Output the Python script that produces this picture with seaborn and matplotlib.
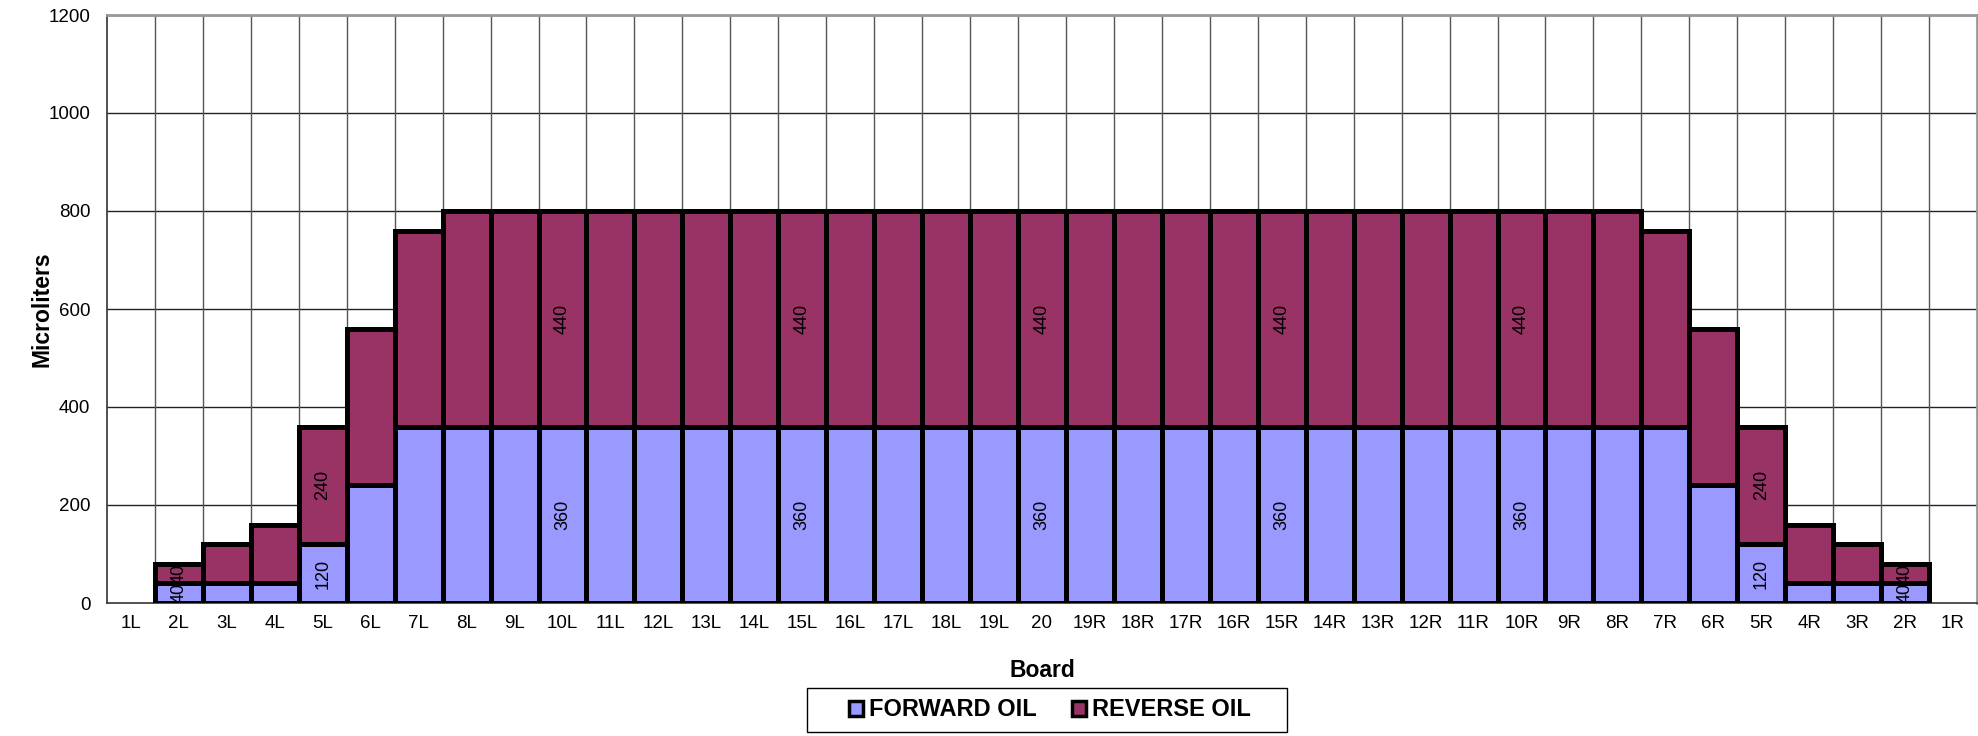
import matplotlib
matplotlib.use("Agg")
import matplotlib.pyplot as plt
import seaborn as sns
import pandas as pd
import numpy as np
from matplotlib.patches import Patch, Rectangle

boards = ["1L", "2L", "3L", "4L", "5L", "6L", "7L", "8L", "9L", "10L", "11L", "12L", "13L",
          "14L", "15L", "16L", "17L", "18L", "19L", "20", "19R", "18R", "17R", "16R", "15R",
          "14R", "13R", "12R", "11R", "10R", "9R", "8R", "7R", "6R", "5R", "4R", "3R", "2R", "1R"]
forward_oil = [0, 40, 40, 40, 120, 240, 360, 360, 360, 360, 360, 360, 360,
               360, 360, 360, 360, 360, 360, 360, 360, 360, 360, 360, 360,
               360, 360, 360, 360, 360, 360, 360, 360, 240, 120, 40, 40, 40, 0]
reverse_oil = [0, 40, 80, 120, 240, 320, 400, 440, 440, 440, 440, 440, 440,
               440, 440, 440, 440, 440, 440, 440, 440, 440, 440, 440, 440,
               440, 440, 440, 440, 440, 440, 440, 400, 320, 240, 120, 80, 40, 0]
labelled_boards = ["2L", "5L", "10L", "15L", "20", "15R", "10R", "5R", "2R"]

FWD_COLOR = "#9999FF"
REV_COLOR = "#993366"

df = pd.DataFrame({"Board": boards, "Forward": forward_oil, "Reverse": reverse_oil})
df["Total"] = df["Forward"] + df["Reverse"]

sns.set_style("white")
plt.rcParams["font.family"] = ["Liberation Sans", "DejaVu Sans"]
for k in ["text.color", "axes.labelcolor", "xtick.color", "ytick.color"]:
    plt.rcParams[k] = "black"

fig = plt.figure(figsize=(19.78, 7.36), dpi=100)
ax = fig.add_axes([107 / 1978, 1 - 603 / 736, (1977 - 107) / 1978, (603 - 15) / 736])

sns.barplot(data=df, x="Board", y="Total", order=boards, color=REV_COLOR, saturation=1,
            width=1.0, edgecolor="black", linewidth=3.6, ax=ax, zorder=3)
sns.barplot(data=df, x="Board", y="Forward", order=boards, color=FWD_COLOR, saturation=1,
            width=1.0, edgecolor="black", linewidth=3.6, ax=ax, zorder=4)
for p in ax.patches:
    if p.get_height() == 0:
        p.set_linewidth(0)

# value labels
for i, b in enumerate(boards):
    if b in labelled_boards:
        f = forward_oil[i]
        r = reverse_oil[i]
        ax.text(i, f / 2, f"{f}", rotation=90, ha="center", va="center", fontsize=13,
                zorder=6, clip_on=True)
        ax.text(i, f + r / 2, f"{r}", rotation=90, ha="center", va="center", fontsize=13,
                zorder=6, clip_on=True)

ax.set_xlim(-0.5, len(boards) - 0.5)
ax.set_ylim(0, 1200)
ax.set_yticks(np.arange(0, 1201, 200))

# grid lines
for y in range(200, 1201, 200):
    ax.axhline(y, color="#222222", lw=1.0, zorder=1)
for k in range(1, len(boards)):
    ax.axvline(k - 0.5, color="#555555", lw=1.0, zorder=1)

ax.set_xticks(range(len(boards)))
ax.set_xticklabels(boards, fontsize=13.5)
ax.tick_params(axis="x", which="major", length=0, pad=9)
ax.set_xticks(np.arange(-0.5, len(boards), 1), minor=True)
ax.tick_params(axis="x", which="minor", length=6, width=1, color="#444444", direction="out")
ax.tick_params(axis="y", labelsize=13.5, length=6, width=1, color="#444444", direction="out", pad=6)

for s in ["left", "bottom"]:
    ax.spines[s].set_color("#333333")
    ax.spines[s].set_linewidth(1.2)
for s in ["top", "right"]:
    ax.spines[s].set_color("#999999")
    ax.spines[s].set_linewidth(2)

ax.set_xlabel("Board", fontsize=16.5, fontweight="bold")
ax.set_ylabel("Microliters", fontsize=16.5, fontweight="bold")
ax.xaxis.set_label_coords(0.5, -0.095)
ax.yaxis.set_label_coords(-0.0285, 0.5)

# legend box
x0, x1 = 807 / 1978, 1287 / 1978
y0, y1 = 1 - 732 / 736, 1 - 688 / 736
fig.patches.append(Rectangle((x0, y0), x1 - x0, y1 - y0, transform=fig.transFigure,
                             facecolor="white", edgecolor="black", linewidth=1.0, zorder=1))

handles = [Patch(facecolor=FWD_COLOR, edgecolor="black", linewidth=2.5, label="FORWARD OIL"),
           Patch(facecolor=REV_COLOR, edgecolor="black", linewidth=2.5, label="REVERSE OIL")]
leg = fig.legend(handles=handles, loc="center", bbox_to_anchor=(1050 / 1978, (y0 + y1) / 2),
                 ncol=2, frameon=False,
                 prop={"family": ["Liberation Sans"], "weight": "bold", "size": 17},
                 handlelength=0.6, handleheight=0.6, handletextpad=0.25, columnspacing=1.5,
                 borderpad=0.0, borderaxespad=0.0)

fig.savefig("out.png", dpi=100, facecolor="white")
